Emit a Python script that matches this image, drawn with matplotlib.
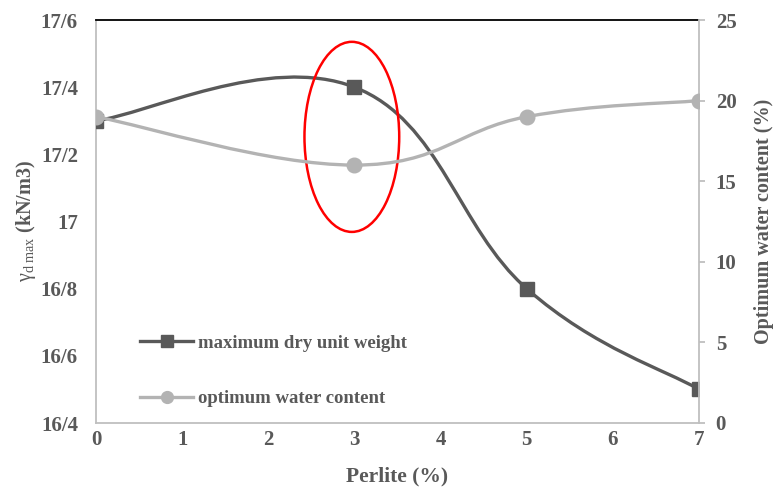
import numpy as np
import matplotlib
matplotlib.use("Agg")
import matplotlib.pyplot as plt
from matplotlib.path import Path
from matplotlib.patches import PathPatch, Ellipse
from matplotlib.lines import Line2D

plt.rcParams['font.family'] = ['Liberation Serif', 'DejaVu Serif']
plt.rcParams['mathtext.fontset'] = 'custom'
plt.rcParams['mathtext.rm'] = 'Liberation Serif'
plt.rcParams['mathtext.it'] = 'Liberation Serif:italic'
plt.rcParams['mathtext.bf'] = 'Liberation Serif:bold'

# data
perlite = [0, 3, 5, 7]
dry_weight = [17.3, 17.4, 16.8, 16.5]      # kN/m3
water_content = [19, 16, 19, 20]           # %
left_ticks = [16.4, 16.6, 16.8, 17.0, 17.2, 17.4, 17.6]
left_labels = ['16/4', '16/6', '16/8', '17', '17/2', '17/4', '17/6']
right_ticks = [0, 5, 10, 15, 20, 25]

dark = '#595959'
light = '#b3b3b3'
spine_c = '#bfbfbf'
text_c = '#595959'


def smooth_path(x, y, k=0.2):
    # bezier through the points, like the spreadsheet "smoothed line"
    pts = np.column_stack([x, y]).astype(float)
    n = len(pts)
    verts = [pts[0]]
    codes = [Path.MOVETO]
    for i in range(n - 1):
        p0 = pts[max(i - 1, 0)]
        p1 = pts[i]
        p2 = pts[i + 1]
        p3 = pts[min(i + 2, n - 1)]
        c1 = p1 + (p2 - p0) * k
        c2 = p2 - (p3 - p1) * k
        verts += [c1, c2, p2]
        codes += [Path.CURVE4] * 3
    return Path(verts, codes)


fig = plt.figure(figsize=(7.73, 4.95), dpi=100)
ax = fig.add_axes([96 / 773, 1 - 423 / 495, 603 / 773, 403 / 495])
ax2 = ax.twinx()

ax.set_xlim(0, 7)
ax.set_ylim(16.4, 17.6)
ax2.set_ylim(0, 25)

ax.add_patch(PathPatch(smooth_path(perlite, dry_weight), fill=False,
                       edgecolor=dark, lw=2.4, zorder=3))
ax.plot(perlite, dry_weight, ls='none', marker='s', ms=10.5, color=dark, zorder=4)

ax2.add_patch(PathPatch(smooth_path(perlite, water_content), fill=False,
                        edgecolor=light, lw=2.4, zorder=3))
ax2.plot(perlite, water_content, ls='none', marker='o', ms=10.5, color=light, zorder=4)

ax.add_patch(Ellipse((2.97, 17.252), 1.1, 0.566, fill=False, edgecolor='red', lw=1.8, zorder=5))

# axes styling
for s in ['left', 'bottom']:
    ax.spines[s].set_color(spine_c)
    ax.spines[s].set_linewidth(1.3)
ax.spines['right'].set_visible(False)
ax.spines['top'].set_color('black')
ax.spines['top'].set_linewidth(1.3)
for s in ['left', 'bottom', 'top']:
    ax2.spines[s].set_visible(False)
ax2.spines['right'].set_color(spine_c)
ax2.spines['right'].set_linewidth(1.3)

tfont = dict(family='Liberation Serif', weight='bold', size=15, color=text_c)

ax.set_xticks(range(8))
ax.set_xticklabels([str(i) for i in range(8)], **tfont)
ax.tick_params(axis='x', length=0, pad=5)
ax.set_yticks(left_ticks)
ax.set_yticklabels(left_labels, **tfont)
ax.tick_params(axis='y', length=0, pad=13)
ax2.set_yticks(right_ticks)
ax2.set_yticklabels([str(v) for v in right_ticks], **tfont)
ax2.tick_params(axis='y', length=4, width=1.3, color=spine_c, pad=8)

ax.set_xlabel('Perlite (%)', fontsize=15.5, weight='bold', color=text_c, labelpad=12)
ax.set_ylabel(r'$\mathrm{\gamma}_{\mathrm{d\ max}}$ $\mathbf{(kN/m3)}$', fontsize=14.5,
              color=text_c, labelpad=2)
ax2.set_ylabel('Optimum water content (%)', fontsize=14.5, weight='bold', color=text_c,
               labelpad=13)

handles = [Line2D([], [], color=dark, lw=2.4, marker='s', ms=8.5),
           Line2D([], [], color=light, lw=2.4, marker='o', ms=8.5)]
fig.legend(handles, ['maximum dry unit weight', 'optimum water content'],
           loc='center left', bbox_to_anchor=(131 / 773, 1 - 371 / 495),
           frameon=False, borderpad=0, handlelength=2.8, handletextpad=0.25,
           labelspacing=2.05, labelcolor=text_c,
           prop=dict(family='Liberation Serif', weight='bold', size=13.5))

fig.savefig('out.png', dpi=100)
